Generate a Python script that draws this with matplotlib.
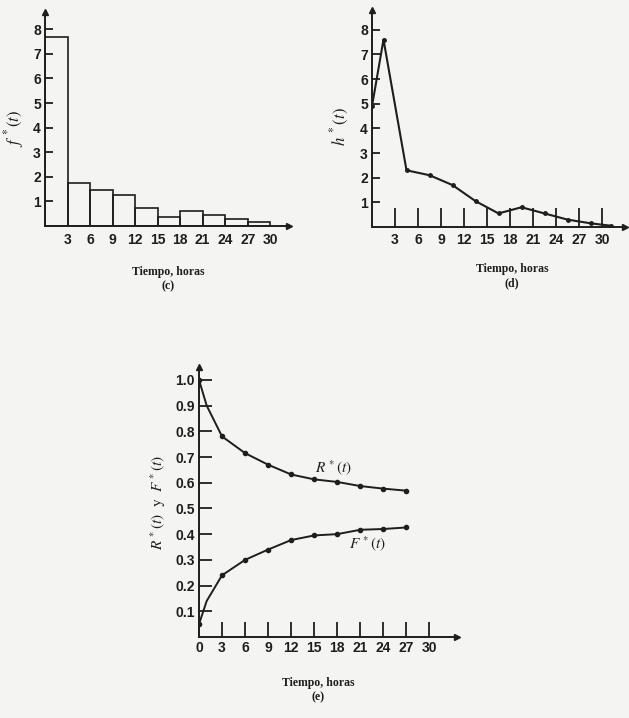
import matplotlib
matplotlib.use("Agg")
import matplotlib.pyplot as plt
import numpy as np

# ---------------- data ----------------
# (c) histogram f*(t)
bar_edges = [0, 3, 6, 9, 12, 15, 18, 21, 24, 27]
bar_heights = [7.7, 1.75, 1.47, 1.25, 0.74, 0.36, 0.62, 0.44, 0.28, 0.16]
c_xticks = [3, 6, 9, 12, 15, 18, 21, 24, 27, 30]
c_yticks = [1, 2, 3, 4, 5, 6, 7, 8]

# (d) hazard h*(t)
h_t = [0, 1.5, 4.5, 7.5, 10.5, 13.5, 16.5, 19.5, 22.5, 25.5, 28.5, 31.2]
h_v = [4.9, 7.6, 2.3, 2.1, 1.7, 1.05, 0.55, 0.8, 0.55, 0.3, 0.15, 0.05]
d_xticks = [3, 6, 9, 12, 15, 18, 21, 24, 27, 30]
d_yticks = [1, 2, 3, 4, 5, 6, 7, 8]

# (e) R*(t) and F*(t)
e_t = [0, 1, 3, 6, 9, 12, 15, 18, 21, 24, 27]
R_v = [1.0, 0.90, 0.78, 0.715, 0.67, 0.632, 0.613, 0.603, 0.587, 0.577, 0.569]
F_v = [0.05, 0.14, 0.24, 0.30, 0.34, 0.377, 0.395, 0.40, 0.417, 0.42, 0.426]
e_mark = [0, 2, 3, 4, 5, 6, 7, 8, 9, 10]
e_xticks = [0, 3, 6, 9, 12, 15, 18, 21, 24, 27, 30]
e_yticks = [0.1, 0.2, 0.3, 0.4, 0.5, 0.6, 0.7, 0.8, 0.9, 1.0]

# ---------------- style ----------------
plt.rcParams['mathtext.fontset'] = 'stix'
BG = '#f4f4f2'
INK = '#1e1e1e'
W, H = 629, 718
fig = plt.figure(figsize=(W / 100, H / 100), dpi=100, facecolor=BG)

cap_font = dict(family='Liberation Serif', weight='bold', size=8.5, color=INK)


def px_axes(x0, y0, x1, y1):
    """axes from pixel box (left, top, right, bottom)"""
    return fig.add_axes([x0 / W, 1 - y1 / H, (x1 - x0) / W, (y1 - y0) / H])


def style(ax):
    ax.set_facecolor('none')
    for s in ['top', 'right']:
        ax.spines[s].set_visible(False)
    for s in ['left', 'bottom']:
        ax.spines[s].set_color(INK)
        ax.spines[s].set_linewidth(1.4)
    ax.plot(1, 0, '>', color=INK, ms=5, transform=ax.transAxes, clip_on=False)
    ax.plot(0, 1, '^', color=INK, ms=5, transform=ax.transAxes, clip_on=False)
    ax.tick_params(direction='in', length=6, width=1.3, color=INK, pad=3)
    for lab in ax.get_xticklabels() + ax.get_yticklabels():
        lab.set_fontproperties(matplotlib.font_manager.FontProperties(
            family='Liberation Sans', weight='bold', size=10))
        lab.set_color(INK)


# ---------------- (c) ----------------
axc = px_axes(45, 12, 289, 226)
axc.set_xlim(0, 32.5)
axc.set_ylim(0, 8.7)
axc.bar(bar_edges, bar_heights, width=3, align='edge', facecolor='none',
        edgecolor=INK, linewidth=1.2)
axc.set_xticks(c_xticks)
axc.set_yticks(c_yticks)
style(axc)
axc.tick_params(axis='x', length=0, pad=5)
fig.text(14 / W, 1 - 128 / H, r'$f^{\,*}(t)$', rotation=90, ha='center', va='center',
         fontsize=12, color=INK)
fig.text(168 / W, 1 - 272 / H, 'Tiempo, horas', ha='center', va='center', **cap_font)
fig.text(168 / W, 1 - 286 / H, '(c)', ha='center', va='center', **cap_font)

# ---------------- (d) ----------------
axd = px_axes(372, 10, 625, 227)
axd.set_xlim(0, 33)
axd.set_ylim(0, 8.8)
axd.plot(h_t, h_v, color=INK, lw=1.5, marker='o', ms=2.5)
axd.set_xticks(d_xticks)
axd.set_yticks(d_yticks)
style(axd)
axd.tick_params(axis='x', length=14, pad=4)
fig.text(340 / W, 1 - 127 / H, r'$h^{\,*}(t)$', rotation=90, ha='center', va='center',
         fontsize=12, color=INK)
fig.text(512 / W, 1 - 269 / H, 'Tiempo, horas', ha='center', va='center', **cap_font)
fig.text(512 / W, 1 - 283 / H, '(d)', ha='center', va='center', **cap_font)

# ---------------- (e) ----------------
axe = px_axes(199, 367, 457, 637)
axe.set_xlim(0, 33.6)
axe.set_ylim(0, 1.05)
axe.plot(e_t, R_v, color=INK, lw=1.4, marker='o', ms=3, markevery=e_mark)
axe.plot(e_t, F_v, color=INK, lw=1.4, marker='o', ms=3, markevery=e_mark)
axe.set_xticks(e_xticks)
axe.set_yticks(e_yticks)
axe.set_yticklabels([f'{v:.1f}' for v in e_yticks])
style(axe)
axe.tick_params(axis='x', length=11, pad=3)
axe.tick_params(axis='y', length=9)
axe.text(17.5, 0.66, r'$R^{\,*}(t)$', ha='center', va='center', fontsize=11, color=INK)
axe.text(22.0, 0.365, r'$F^{\,*}(t)$', ha='center', va='center', fontsize=11, color=INK)
fig.text(158 / W, 1 - 502 / H, r'$R^{\,*}(t)\ \ \mathrm{y}\ \ F^{\,*}(t)$', rotation=90,
         ha='center', va='center', fontsize=11, color=INK)
fig.text(318 / W, 1 - 683 / H, 'Tiempo, horas', ha='center', va='center', **cap_font)
fig.text(318 / W, 1 - 697 / H, '(e)', ha='center', va='center', **cap_font)

fig.savefig('out.png', dpi=100, facecolor=BG)
